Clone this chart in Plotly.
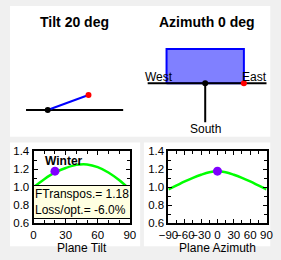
import math
import plotly.graph_objects as go

# ---- data ----
tilt_deg = 20
azimuth_deg = 0
season = "Winter"
ftranspos = 1.18
loss_opt = -6.0

tilt_x = [0, 10, 20, 30, 40, 50, 60, 70, 80, 90]
tilt_y = [1.00, 1.09, 1.165, 1.215, 1.25, 1.255, 1.225, 1.165, 1.08, 0.975]

azim_x = [-90, -75, -60, -45, -30, -15, 0, 15, 30, 45, 60, 75, 90]
azim_y = [0.975, 1.02, 1.065, 1.105, 1.14, 1.168, 1.178, 1.168, 1.14, 1.105, 1.065, 1.02, 0.975]

W, H = 281, 260
FONT = "Liberation Sans, Arial, sans-serif"

fig = go.Figure()

# ---- top schematic (pixel-unit axis x3/y3) ----
px, py, L = 40, 109, 46
ex = px + L * math.cos(math.radians(tilt_deg))
ey = py - L * math.sin(math.radians(tilt_deg))
fig.add_trace(go.Scatter(x=[17, 120], y=[py, py], mode="lines", line=dict(color="black", width=2),
                         xaxis="x3", yaxis="y3", hoverinfo="skip"))
fig.add_trace(go.Scatter(x=[px, ex], y=[py, ey], mode="lines", line=dict(color="#0000ff", width=2),
                         xaxis="x3", yaxis="y3", hoverinfo="skip"))
fig.add_trace(go.Scatter(x=[px], y=[py], mode="markers", marker=dict(color="black", size=6),
                         xaxis="x3", yaxis="y3", hoverinfo="skip"))
fig.add_trace(go.Scatter(x=[ex], y=[ey], mode="markers", marker=dict(color="red", size=6),
                         xaxis="x3", yaxis="y3", hoverinfo="skip"))

cx, cy, half_w, rect_h = 207, 81, 41, 36
a = math.radians(azimuth_deg)
x0 = cx - half_w * math.cos(a)
x1 = cx + half_w * math.cos(a)
fig.add_trace(go.Scatter(x=[x0, x1, x1, x0, x0], y=[cy, cy, cy - rect_h, cy - rect_h, cy],
                         mode="lines", fill="toself", fillcolor="#8080ff",
                         line=dict(color="#0000ff", width=2), xaxis="x3", yaxis="y3", hoverinfo="skip"))
fig.add_trace(go.Scatter(x=[146, 272], y=[cy, cy], mode="lines", line=dict(color="black", width=2),
                         xaxis="x3", yaxis="y3", hoverinfo="skip"))
fig.add_trace(go.Scatter(x=[cx, cx], y=[cy, 122], mode="lines", line=dict(color="black", width=2),
                         xaxis="x3", yaxis="y3", hoverinfo="skip"))
fig.add_trace(go.Scatter(x=[cx], y=[cy], mode="markers", marker=dict(color="black", size=6),
                         xaxis="x3", yaxis="y3", hoverinfo="skip"))
fig.add_trace(go.Scatter(x=[x1], y=[cy], mode="markers", marker=dict(color="red", size=6),
                         xaxis="x3", yaxis="y3", hoverinfo="skip"))

# ---- bottom plots ----
fig.add_trace(go.Scatter(x=tilt_x, y=tilt_y, mode="lines", line=dict(color="#00ff00", width=2.5, shape="spline"),
                         xaxis="x", yaxis="y", hoverinfo="skip"))
fig.add_trace(go.Scatter(x=[tilt_deg], y=[ftranspos], mode="markers", marker=dict(color="#8000ff", size=9),
                         xaxis="x", yaxis="y", hoverinfo="skip"))
fig.add_trace(go.Scatter(x=azim_x, y=azim_y, mode="lines", line=dict(color="#00ff00", width=2.5, shape="spline"),
                         xaxis="x2", yaxis="y2", hoverinfo="skip"))
fig.add_trace(go.Scatter(x=[azimuth_deg], y=[ftranspos], mode="markers", marker=dict(color="#8000ff", size=9),
                         xaxis="x2", yaxis="y2", hoverinfo="skip"))

def fx(p):
    return p / W

def fy(p):
    return 1 - p / H

shapes = [
    dict(type="rect", xref="paper", yref="paper", x0=0, x1=fx(276), y0=fy(137), y1=1,
         fillcolor="white", line=dict(width=0), layer="below"),
    dict(type="rect", xref="paper", yref="paper", x0=0, x1=fx(138), y0=fy(252), y1=fy(143),
         fillcolor="white", line=dict(width=0), layer="below"),
    dict(type="rect", xref="paper", yref="paper", x0=fx(142), x1=fx(276), y0=fy(252), y1=fy(143),
         fillcolor="white", line=dict(width=0), layer="below"),
]

TF = 11.5
yd = [fy(227.5), fy(152.5)]
common_x = dict(showline=True, linecolor="black", linewidth=2, mirror="ticks", ticks="inside",
                ticklen=4, tickcolor="black", tickwidth=1, showgrid=False, zeroline=False,
                tickangle=0,
                tickfont=dict(family=FONT, size=TF, color="black"),
                title_font=dict(family=FONT, size=12, color="black"), title_standoff=0)
common_y = dict(showline=True, linecolor="black", linewidth=2, mirror="ticks", ticks="inside",
                ticklen=4, tickcolor="black", tickwidth=1, showgrid=False, zeroline=False,
                range=[0.6, 1.4], dtick=0.2, tickformat=".1f",
                minor=dict(dtick=0.1, ticks="inside", ticklen=3, tickcolor="black"),
                tickfont=dict(family=FONT, size=TF, color="black"))

fig.update_layout(
    width=W, height=H, margin=dict(l=0, r=0, t=0, b=0),
    paper_bgcolor="#f0f0f0", plot_bgcolor="rgba(0,0,0,0)", showlegend=False,
    shapes=shapes,
    xaxis=dict(domain=[fx(25), fx(127)], range=[0, 90], dtick=30,
               minor=dict(dtick=10, ticks="inside", ticklen=3, tickcolor="black"),
               title=dict(text="Plane Tilt"), anchor="y", **common_x),
    yaxis=dict(domain=yd, anchor="x", **common_y),
    xaxis2=dict(domain=[fx(168), fx(272)], range=[-90, 90], dtick=30,
                minor=dict(dtick=15, ticks="inside", ticklen=3, tickcolor="black"),
                title=dict(text="Plane Azimuth"), anchor="y2", **common_x),
    yaxis2=dict(domain=yd, anchor="x2", **common_y),
    xaxis3=dict(domain=[0, fx(276)], range=[0, 276], visible=False, anchor="y3"),
    yaxis3=dict(domain=[fy(137), 1], range=[137, 0], visible=False, anchor="x3"),
    annotations=[
        dict(text=f"<b>Tilt {tilt_deg} deg</b>", x=68, y=17, xref="x3", yref="y3", showarrow=False,
             xanchor="center", yanchor="middle", font=dict(family=FONT, size=14, color="black")),
        dict(text=f"<b>Azimuth {azimuth_deg} deg</b>", x=209, y=17, xref="x3", yref="y3", showarrow=False,
             xanchor="center", yanchor="middle", font=dict(family=FONT, size=14, color="black")),
        dict(text="West", x=141, y=74, xref="x3", yref="y3", showarrow=False, xanchor="left",
             yanchor="middle", font=dict(family=FONT, size=12, color="black")),
        dict(text="East", x=275, y=74, xref="x3", yref="y3", showarrow=False, xanchor="right",
             yanchor="middle", font=dict(family=FONT, size=12, color="black")),
        dict(text="South", x=207, y=129, xref="x3", yref="y3", showarrow=False,
             xanchor="center", yanchor="middle", font=dict(family=FONT, size=12, color="black")),
        dict(text=f"<b>{season}</b>", x=fx(35), y=fy(163), xref="paper", yref="paper", showarrow=False,
             xanchor="left", yanchor="middle", font=dict(family=FONT, size=12, color="black")),
        dict(text=f"FTranspos.= {ftranspos:.2f}<br>Loss/opt.= {loss_opt:.1f}%", x=fx(76), y=fy(205),
             xref="paper", yref="paper", showarrow=False, align="left",
             xanchor="center", yanchor="middle",
             bgcolor="#ffffe1", bordercolor="black", borderwidth=1, borderpad=1,
             font=dict(family=FONT, size=12, color="black")),
    ],
)

fig.write_html("out.html")
